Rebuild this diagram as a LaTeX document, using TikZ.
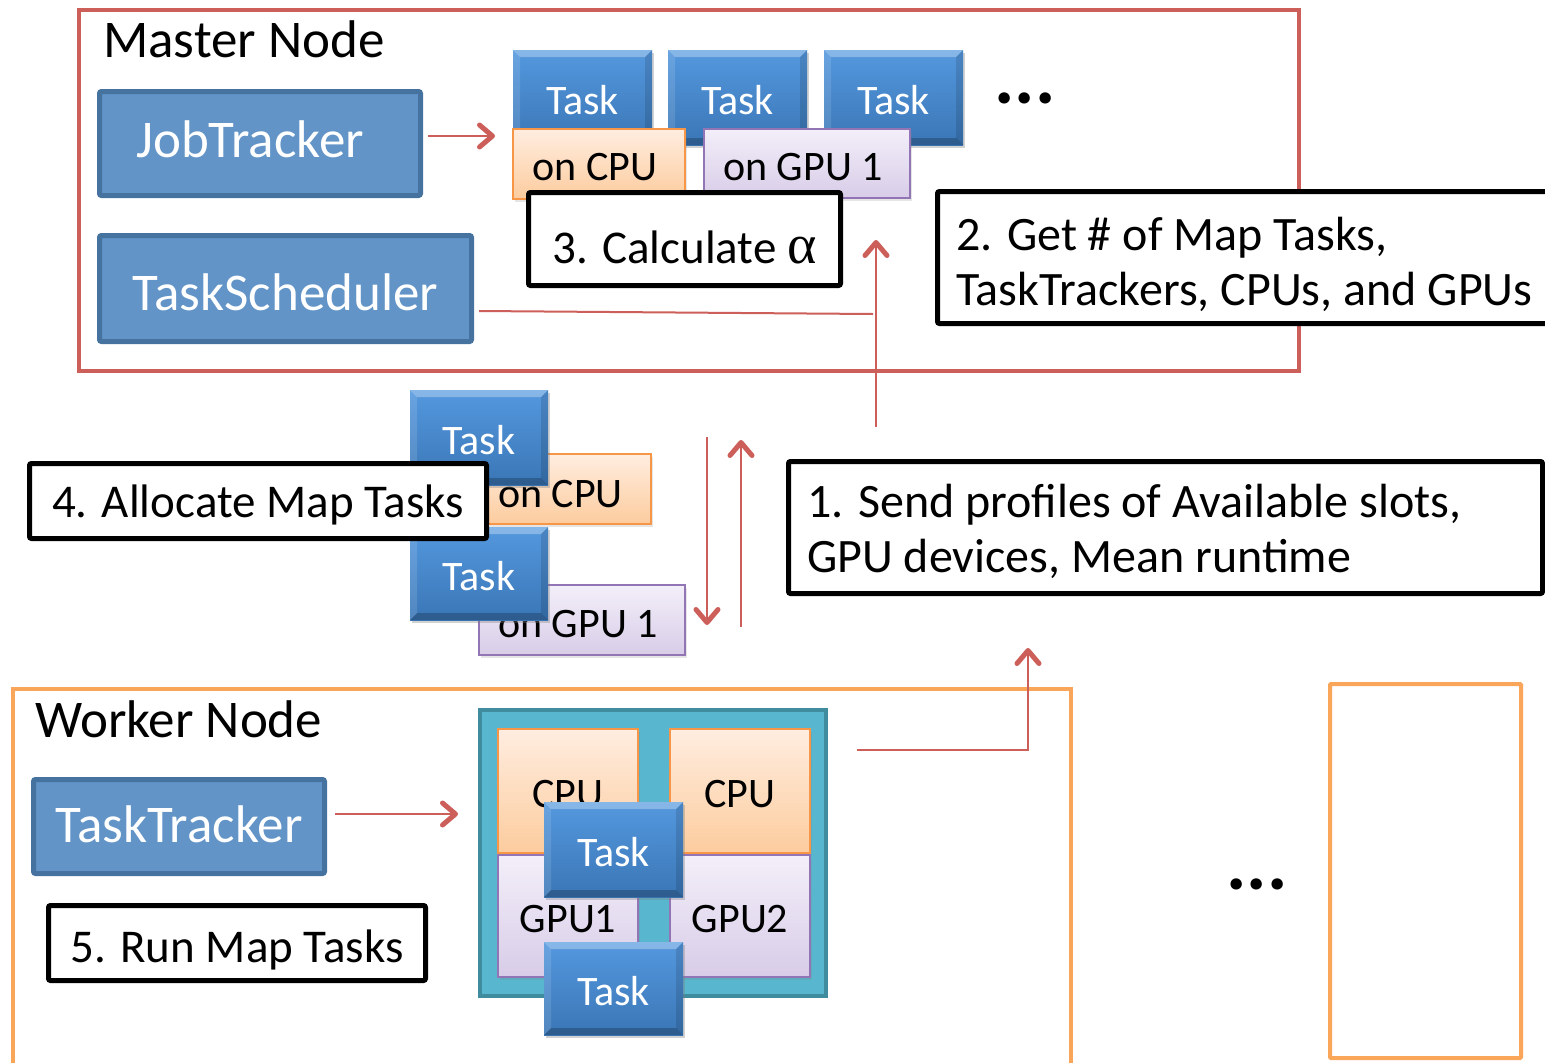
\documentclass[tikz,border=0pt]{standalone}
\usepackage{fontspec}
\setmainfont{Carlito}
\newfontfamily\alphafont{Liberation Serif}
\usetikzlibrary{arrows.meta,shadows}

\definecolor{mred}{RGB}{205,95,90}
\definecolor{worange}{RGB}{249,166,90}
\definecolor{bfill}{RGB}{98,148,199}
\definecolor{bline}{RGB}{70,114,160}
\definecolor{ttop}{RGB}{84,152,222}
\definecolor{tbot}{RGB}{58,118,182}
\definecolor{ctop}{RGB}{255,237,224}
\definecolor{cbot}{RGB}{252,204,158}
\definecolor{cline}{RGB}{247,150,70}
\definecolor{gtop}{RGB}{243,239,249}
\definecolor{gbot}{RGB}{216,204,232}
\definecolor{gline}{RGB}{145,117,180}
\definecolor{tealf}{RGB}{88,183,207}
\definecolor{teall}{RGB}{62,140,158}

\newcommand\bl[2]{\raisebox{#1}[0pt][0pt]{#2}}

\tikzset{
  bluebox/.style={draw=bline, fill=bfill, line width=5pt, rounded corners=2pt,
    text=white, inner sep=0pt, font=\fontsize{53}{53}\selectfont},
  taskbox/.style={top color=ttop, bottom color=tbot, text=white, inner sep=0pt,
    minimum width=139pt, minimum height=95pt, font=\fontsize{42}{42}\selectfont,
    drop shadow={shadow xshift=2pt, shadow yshift=-3pt, opacity=0.35},
    path picture={
      \path (path picture bounding box.north west) coordinate (pNW)
            (path picture bounding box.north east) coordinate (pNE)
            (path picture bounding box.south west) coordinate (pSW)
            (path picture bounding box.south east) coordinate (pSE);
      \fill[white,opacity=0.30] (pNW) -- (pNE) -- ([shift={(-7pt,-7pt)}]pNE) -- ([shift={(7pt,-7pt)}]pNW) -- cycle;
      \fill[black,opacity=0.22] (pSW) -- (pSE) -- ([shift={(-7pt,7pt)}]pSE) -- ([shift={(7pt,7pt)}]pSW) -- cycle;
      \fill[white,opacity=0.12] (pNW) -- ([shift={(7pt,-7pt)}]pNW) -- ([shift={(7pt,7pt)}]pSW) -- (pSW) -- cycle;
      \fill[black,opacity=0.12] (pNE) -- ([shift={(-7pt,-7pt)}]pNE) -- ([shift={(-7pt,7pt)}]pSE) -- (pSE) -- cycle;
    }},
  cpubox/.style={top color=ctop, bottom color=cbot, draw=cline, line width=2pt,
    inner sep=0pt, font=\fontsize{42}{42}\selectfont,
    drop shadow={shadow xshift=2pt, shadow yshift=-3pt, opacity=0.2}},
  gpubox/.style={top color=gtop, bottom color=gbot, draw=gline, line width=2pt,
    inner sep=0pt, font=\fontsize{42}{42}\selectfont,
    drop shadow={shadow xshift=2pt, shadow yshift=-3pt, opacity=0.2}},
  lbox/.style={draw=black, fill=white, line width=5pt, rounded corners=2pt,
    inner sep=0pt, font=\fontsize{47}{47}\selectfont},
  conn/.style={draw=mred, line width=2pt},
  arr/.style={conn, -{Straight Barb[length=13pt,width=22pt,line width=5pt,round]}},
  title/.style={anchor=base west, inner sep=0pt, font=\fontsize{53}{53}\selectfont},
  ltext/.style={anchor=base west, inner sep=0pt, align=left,
    font=\fontsize{48}{55}\selectfont},
  dots/.style={inner sep=0pt, font=\fontsize{76}{76}\bfseries\selectfont}
}

\begin{document}
\begin{tikzpicture}[x=1pt,y=-1pt]
\clip (0,0) rectangle (1545,1063);
\fill[white] (0,0) rectangle (1545,1063);

% ---------------- Master node ----------------
\draw[mred, line width=4pt] (79,10) rectangle (1299,371);
\node[title] (mastertitle) at (103,57) {Master Node};

\node[bluebox, minimum width=321pt, minimum height=104pt] (jt) at (260,143.5)
  {\bl{-13.5pt}{JobTracker\hspace{20pt}}};
\node[bluebox, minimum width=372pt, minimum height=106pt] (ts) at (285.5,288.5)
  {\bl{-21.5pt}{TaskScheduler}};

\node[taskbox] (mt1) at (582.5,97.5) {\bl{-17pt}{Task}};
\node[taskbox] (mt2) at (737.5,97.5) {\bl{-17pt}{Task}};
\node[taskbox] (mt3) at (893.5,97.5) {\bl{-17pt}{Task}};
\node[cpubox, minimum width=172pt, minimum height=70pt] (mcpu) at (599,164)
  {\bl{-16pt}{on CPU\hspace{8pt}}};
\node[gpubox, minimum width=206pt, minimum height=69pt] (mgpu) at (807,163.5)
  {\bl{-16.5pt}{on GPU 1\hspace{8pt}}};
\node[dots] (mdots) at (1025,98) {...};

\node[lbox, minimum width=312pt, minimum height=93pt] (calc) at (684.5,239)
  {\bl{-24pt}{3. Calculate {\alphafont\fontsize{56}{56}\selectfont α}}};

% connectors in master
\coordinate (jtend) at (495,136);
\draw[arr] ([xshift=5pt,yshift=7.5pt]jt.east) -- (jtend);
\coordinate (tsend) at (873,314);
\draw[conn] ([xshift=5pt,yshift=-22.5pt]ts.east) -- (tsend);
\coordinate (vbot) at (876,427);
\coordinate (vtop) at (876,240);
\draw[arr] (vbot) -- (vtop);

\node[lbox, minimum width=620pt, minimum height=132pt] (get) at (1247.5,257.5) {};
\node[ltext] (gettxt) at (956,305) {2. Get \# of Map Tasks,\\TaskTrackers, CPUs, and GPUs};

% ---------------- Middle ----------------
\node[cpubox, minimum width=163pt, minimum height=70pt] (acpu) at (569.5,489)
  {\bl{-18pt}{on CPU\hspace{18pt}}};
\node[taskbox, minimum width=138pt, minimum height=95pt] (at1) at (479,437.5) {\bl{-17pt}{Task}};
\node[gpubox, minimum width=206pt, minimum height=70pt] (agpu) at (582,620)
  {\bl{-17pt}{on GPU 1\hspace{8pt}}};
\node[taskbox, minimum width=138pt, minimum height=93pt] (at2) at (479,573.5) {\bl{-17pt}{Task}};
\node[lbox, minimum width=457pt, minimum height=75pt] (alloc) at (258,501)
  {\bl{-16pt}{4. Allocate Map Tasks}};

\coordinate (dtop) at (707,437);
\coordinate (dbot) at (707,625);
\draw[arr] (dtop) -- (dbot);
\coordinate (ubot) at (741,627);
\coordinate (utop) at (741,440);
\draw[arr] (ubot) -- (utop);

\node[lbox, minimum width=754pt, minimum height=132pt] (send) at (1165.5,527.5) {};
\node[ltext] (sendtxt) at (807,572) {1. Send profiles of Available slots,\\GPU devices, Mean runtime};

% ---------------- Worker node ----------------
\draw[worange, line width=4pt] (13,1100) -- (13,689) -- (1071,689) -- (1071,1100);
\node[title] (workertitle) at (35,737) {Worker Node};

\node[bluebox, minimum width=291pt, minimum height=94pt] (tt) at (179,826.5)
  {\bl{-15.5pt}{TaskTracker}};
\node[lbox, minimum width=377pt, minimum height=75pt] (run) at (237,943)
  {\bl{-19pt}{5. Run Map Tasks}};

\node[draw=teall, fill=tealf, line width=4pt, minimum width=346pt, minimum height=286pt,
  inner sep=0pt] (dev) at (653,853) {};
\node[cpubox, minimum width=140pt, minimum height=124pt] (cpu1) at (568,791) {\bl{-16pt}{CPU}};
\node[cpubox, minimum width=140pt, minimum height=124pt] (cpu2) at (740,791) {\bl{-16pt}{CPU}};
\node[gpubox, minimum width=140pt, minimum height=122pt] (gpu1) at (568,916) {\bl{-16pt}{GPU1}};
\node[gpubox, minimum width=140pt, minimum height=122pt] (gpu2) at (740,916) {\bl{-16pt}{GPU2}};
\node[taskbox] (wt1) at (613.5,849.5) {\bl{-17pt}{Task}};
\node[taskbox, minimum height=93pt] (wt2) at (613.5,988.5) {\bl{-17pt}{Task}};

\coordinate (ttend) at (458,814);
\draw[arr] ([xshift=8pt,yshift=12.5pt]tt.east) -- (ttend);

\coordinate (wstart) at (857,750);
\coordinate (wcorner) at (1028,750);
\coordinate (wend) at (1028,648);
\draw[arr] (wstart) -- (wcorner) -- (wend);

\node[dots] (wdots) at (1257,884) {...};
\draw[worange, line width=4pt, rounded corners=1pt] (1330,684) rectangle (1521,1058);
\end{tikzpicture}
\end{document}
